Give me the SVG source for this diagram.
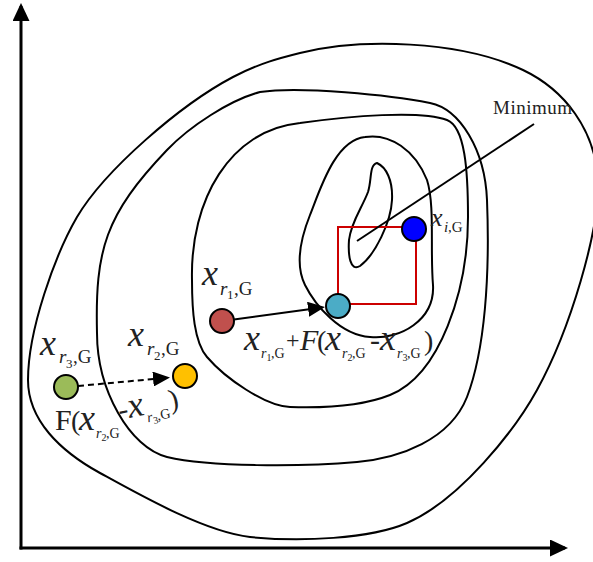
<svg xmlns="http://www.w3.org/2000/svg" width="593" height="562" viewBox="0 0 593 562">
<style>
.contour{fill:none;stroke:#000;stroke-width:2}
.axis{fill:none;stroke:#000;stroke-width:3}
.conn{fill:none;stroke:#000;stroke-width:2}
.pt{stroke:#000;stroke-width:2}
.t{font-family:"Liberation Serif","DejaVu Serif",serif;fill:#222}
.xi{font-style:italic;font-size:36px}
.mf{font-size:30px}
.it{font-style:italic}
.s{font-size:19px}
.ss{font-size:13px}
.s2{font-size:14px}
.ss2{font-size:10px}
</style>
<defs>
<marker id="ah" markerUnits="userSpaceOnUse" markerWidth="17" markerHeight="15" refX="14" refY="7.5" orient="auto">
<path d="M0,0 L17,7.5 L0,15 Z" fill="#000"/>
</marker>
<marker id="axh" markerUnits="userSpaceOnUse" markerWidth="18" markerHeight="17" refX="15" refY="8.5" orient="auto">
<path d="M0,0 L18,8.5 L0,17 Z" fill="#000"/>
</marker>
</defs>

<g id="contours">
<path class="contour" d="M300,53 C360,38 460,40 523,70 C565,90 595,130 598,180 C600,230 570,330 537,390 C515,430 460,500 407,523 C370,539 300,542 250,537 C205,532 140,495 100,473 C60,451 28,420 28,380 C28,330 55,255 77,217 C105,170 180,105 233,77 C260,63 280,58 300,53 Z"/>
<path class="contour" d="M260,92 C300,86 390,95 430,103 C460,109 485,150 487,200 C490,275 485,350 467,397 C450,440 400,458 357,462 C300,467 210,467 167,457 C130,448 97,390 97,333 C95,250 105,215 167,150 C190,126 230,100 260,92 Z"/>
<path class="contour" d="M192,280 C190,200 230,130 300,123 C350,116 420,110 447,120 C465,127 468,170 468,217 C468,290 440,375 390,395 C360,407 320,408 290,407 C265,406 225,378 207,357 C194,342 192,310 192,280 Z"/>
<path class="contour" d="M365,137 C390,133 415,150 427,180 C435,205 430,250 433,285 C435,320 400,340 370,337 C340,335 315,305 305,285 C295,265 300,240 310,215 C320,190 335,140 365,137 Z"/>
<path class="contour" d="M377,163 C386,167 393,180 392,200 C391,222 375,255 360,266 C350,272 348,255 349,240 C351,222 362,208 368,192 C372,180 369,165 377,163 Z"/>
<rect x="338" y="227" width="78" height="77" fill="none" stroke="#cc0000" stroke-width="2"/>
</g>

<g id="connectors">
<line class="axis" x1="21" y1="549.5" x2="21" y2="6" marker-end="url(#axh)"/>
<line class="axis" x1="19.5" y1="548" x2="565" y2="548" marker-end="url(#axh)"/>
<line class="conn" x1="234" y1="319.4" x2="322" y2="307.4" marker-end="url(#ah)"/>
<line class="conn" x1="78" y1="386" x2="167" y2="377.8" stroke-dasharray="6,4" marker-end="url(#ah)"/>
<line class="conn" x1="357" y1="241" x2="534" y2="124"/>
</g>

<g id="minimum-label">
<text class="t" x="493" y="114" font-size="19" textLength="79" lengthAdjust="spacing">Minimum</text>
</g>

<g id="node-xi">
<circle class="pt" cx="414" cy="229" r="12" fill="#0000ff"/>
<text class="t" fill="#444"><tspan class="it" x="431" y="226" font-size="26">x</tspan><tspan class="it" x="444" y="232" font-size="15">i</tspan><tspan x="448" y="232" font-size="15">,G</tspan></text>
</g>

<g id="node-trial">
<circle class="pt" cx="338" cy="306" r="12" fill="#4bacc6"/>
<text class="t"><tspan class="xi" x="244" y="350">x</tspan><tspan class="it s2" x="261" y="358">r</tspan><tspan class="ss2" x="266.5" y="361">1</tspan><tspan class="s2" x="271" y="358">,G</tspan><tspan x="286" y="348" font-size="24">+</tspan><tspan class="mf it" x="300" y="350">F</tspan><tspan x="317" y="350" font-size="28">(</tspan><tspan class="xi" x="325" y="350">x</tspan><tspan class="it s2" x="342" y="358">r</tspan><tspan class="ss2" x="347.5" y="361">2</tspan><tspan class="s2" x="352" y="358">,G</tspan><tspan class="mf" x="370" y="350">-</tspan><tspan class="xi" x="380" y="350">x</tspan><tspan class="it s2" x="397" y="358">r</tspan><tspan class="ss2" x="402.5" y="361">3</tspan><tspan class="s2" x="407" y="358">,G</tspan><tspan x="424" y="350" font-size="28">)</tspan></text>
</g>

<g id="node-r1">
<circle class="pt" cx="222" cy="321" r="12" fill="#c0504d"/>
<text class="t"><tspan class="xi" x="202" y="285">x</tspan><tspan class="it s" x="220" y="295">r</tspan><tspan class="ss" x="227" y="299">1</tspan><tspan class="s" x="234" y="295">,G</tspan></text>
</g>

<g id="node-r2">
<circle class="pt" cx="185" cy="376" r="12" fill="#ffc000"/>
<text class="t"><tspan class="xi" x="128" y="346">x</tspan><tspan class="it s" x="147" y="355">r</tspan><tspan class="ss" x="154" y="360">2</tspan><tspan class="s" x="161" y="355">,G</tspan></text>
</g>

<g id="node-r3">
<circle class="pt" cx="66" cy="387" r="12" fill="#9bbb59"/>
<text class="t"><tspan class="xi" x="40" y="355">x</tspan><tspan class="it s" x="59" y="363">r</tspan><tspan class="ss" x="66" y="368">3</tspan><tspan class="s" x="73" y="363">,G</tspan></text>
</g>

<g id="diff-label">
<text class="t"><tspan class="mf" x="55" y="430">F</tspan><tspan x="71" y="430" font-size="28">(</tspan><tspan class="xi" x="79" y="430">x</tspan><tspan class="it s2" x="96" y="438">r</tspan><tspan class="ss2" x="101.5" y="441">2</tspan><tspan class="s2" x="106" y="438">,G</tspan></text>
<text class="t" transform="rotate(-12 120 420)"><tspan class="mf" x="120" y="420">-</tspan><tspan class="xi" x="130" y="420">x</tspan><tspan class="it s2" x="147" y="428">r</tspan><tspan class="ss2" x="152.5" y="431">3</tspan><tspan class="s2" x="157" y="428">,G</tspan><tspan x="172" y="420" font-size="28">)</tspan></text>
</g>
</svg>
